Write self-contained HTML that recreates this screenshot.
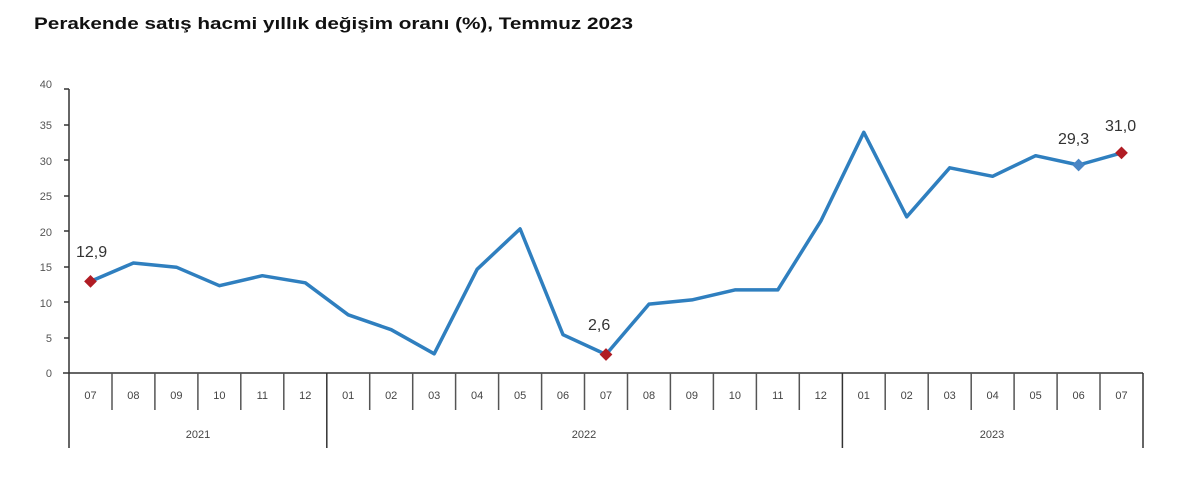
<!DOCTYPE html>
<html><head><meta charset="utf-8"><style>
body{margin:0;background:#fff;width:1200px;height:474px;overflow:hidden}
svg text{font-family:"Liberation Sans",sans-serif}
</style></head><body>
<svg width="1200" height="474" xmlns="http://www.w3.org/2000/svg">
<text x="34" y="29" font-size="17" font-weight="bold" fill="#111" textLength="599" lengthAdjust="spacingAndGlyphs">Perakende satış hacmi yıllık değişim oranı (%), Temmuz 2023</text>
<g font-size="11" fill="#555" text-anchor="end">
<text x="52" y="88">40</text><text x="52" y="129">35</text><text x="52" y="165">30</text><text x="52" y="200">25</text><text x="52" y="236">20</text><text x="52" y="271">15</text><text x="52" y="307">10</text><text x="52" y="342">5</text><text x="52" y="377">0</text>
</g>
<g stroke="#333" stroke-width="1.5">
<line x1="69" y1="89" x2="69" y2="448"/>
<line x1="63" y1="373" x2="1143" y2="373"/>
<line x1="64" y1="89" x2="69" y2="89"/><line x1="64" y1="125" x2="69" y2="125"/><line x1="64" y1="160" x2="69" y2="160"/><line x1="64" y1="196" x2="69" y2="196"/><line x1="64" y1="231" x2="69" y2="231"/><line x1="64" y1="267" x2="69" y2="267"/><line x1="64" y1="302" x2="69" y2="302"/><line x1="64" y1="338" x2="69" y2="338"/>
<line x1="326.8" y1="373" x2="326.8" y2="448"/>
<line x1="842.4" y1="373" x2="842.4" y2="448"/>
<line x1="1143" y1="373" x2="1143" y2="448"/>
</g>
<g stroke="#555" stroke-width="1.5">
<line x1="112" y1="373" x2="112" y2="410"/><line x1="154.9" y1="373" x2="154.9" y2="410"/><line x1="197.9" y1="373" x2="197.9" y2="410"/><line x1="240.8" y1="373" x2="240.8" y2="410"/><line x1="283.8" y1="373" x2="283.8" y2="410"/>
<line x1="369.7" y1="373" x2="369.7" y2="410"/><line x1="412.7" y1="373" x2="412.7" y2="410"/><line x1="455.6" y1="373" x2="455.6" y2="410"/><line x1="498.6" y1="373" x2="498.6" y2="410"/><line x1="541.6" y1="373" x2="541.6" y2="410"/><line x1="584.5" y1="373" x2="584.5" y2="410"/><line x1="627.5" y1="373" x2="627.5" y2="410"/><line x1="670.4" y1="373" x2="670.4" y2="410"/><line x1="713.4" y1="373" x2="713.4" y2="410"/><line x1="756.4" y1="373" x2="756.4" y2="410"/><line x1="799.3" y1="373" x2="799.3" y2="410"/>
<line x1="885.2" y1="373" x2="885.2" y2="410"/><line x1="928.2" y1="373" x2="928.2" y2="410"/><line x1="971.2" y1="373" x2="971.2" y2="410"/><line x1="1014.1" y1="373" x2="1014.1" y2="410"/><line x1="1057.1" y1="373" x2="1057.1" y2="410"/><line x1="1100" y1="373" x2="1100" y2="410"/>
</g>
<g font-size="11" fill="#444" text-anchor="middle">
<text x="90.5" y="399">07</text><text x="133.4" y="399">08</text><text x="176.4" y="399">09</text><text x="219.4" y="399">10</text><text x="262.3" y="399">11</text><text x="305.3" y="399">12</text>
<text x="348.2" y="399">01</text><text x="391.2" y="399">02</text><text x="434.2" y="399">03</text><text x="477.1" y="399">04</text><text x="520.1" y="399">05</text><text x="563" y="399">06</text><text x="606" y="399">07</text><text x="649" y="399">08</text><text x="691.9" y="399">09</text><text x="734.9" y="399">10</text><text x="777.8" y="399">11</text><text x="820.8" y="399">12</text>
<text x="863.8" y="399">01</text><text x="906.7" y="399">02</text><text x="949.7" y="399">03</text><text x="992.6" y="399">04</text><text x="1035.6" y="399">05</text><text x="1078.6" y="399">06</text><text x="1121.5" y="399">07</text>
<text x="198" y="438">2021</text><text x="584" y="438">2022</text><text x="992" y="438">2023</text>
</g>
<polyline fill="none" stroke="#2f7fbf" stroke-width="3.5" stroke-linejoin="round" points="90.5,281.4 133.4,263 176.4,267.2 219.4,285.7 262.3,275.7 305.3,282.8 348.2,314.8 391.2,329.7 434.2,353.8 477.1,269.3 520.1,228.9 563,334.7 606,354.5 649,304.1 691.9,299.9 734.9,289.9 777.8,289.9 820.8,221.1 863.8,132.3 906.7,216.8 949.7,167.8 992.6,176.3 1035.6,155.7 1078.6,165 1121.5,152.9"/>
<g>
<rect x="86" y="276.9" width="9" height="9" fill="#b01c24" transform="rotate(45 90.5 281.4)"/>
<rect x="601.5" y="350" width="9" height="9" fill="#b01c24" transform="rotate(45 606 354.5)"/>
<rect x="1074.1" y="160.5" width="9" height="9" fill="#4a86c5" transform="rotate(45 1078.6 165)"/>
<rect x="1117" y="148.4" width="9" height="9" fill="#b01c24" transform="rotate(45 1121.5 152.9)"/>
</g>
<g font-size="16" fill="#333">
<text x="76" y="257">12,9</text><text x="588" y="330">2,6</text><text x="1058" y="144">29,3</text><text x="1105" y="131">31,0</text>
</g>
</svg>
</body></html>
